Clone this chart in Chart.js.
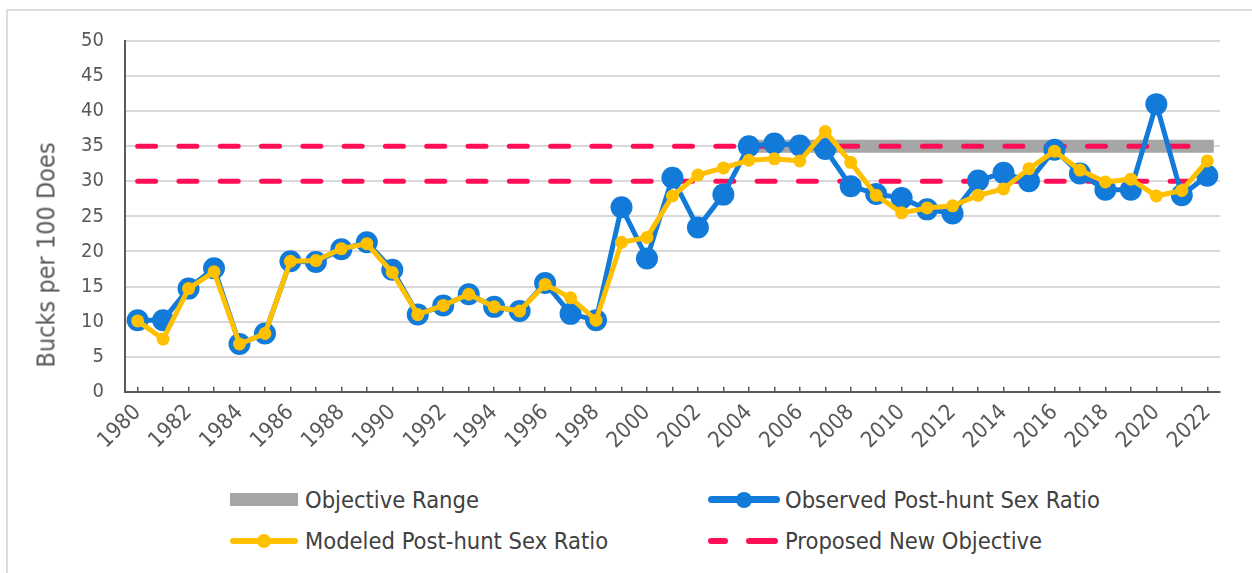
<!DOCTYPE html>
<html lang="en">
<head>
<meta charset="UTF-8">
<title>Post-hunt Sex Ratio</title>
<style>
body {
    margin: 0;
    background: #fff;
    font-family: 'DejaVu Sans Condensed', 'DejaVu Sans', sans-serif;
    overflow: hidden;
}
#frame {
    position: absolute;
    left: 6px;
    top: 9px;
    width: 1300px;
    height: 600px;
    border-left: 2px solid #dedede;
    border-top: 2px solid #dedede;
}
#wrap {
    position: absolute;
    left: 0;
    top: 0;
    width: 1252px;
    height: 467px;
}
#ytitle {
    position: absolute;
    left: 46px;
    top: 255px;
    transform: translate(-50%, -50%) rotate(-90deg);
    font-size: 25px;
    color: #595959;
    white-space: nowrap;
}
.item {
    position: absolute;
    height: 28px;
    font-size: 23.5px;
    color: #404040;
    line-height: 28px;
    white-space: nowrap;
}
.sym {
    position: absolute;
    top: 50%;
}
</style>
</head>
<body>
<div id="frame"></div>
<div id="wrap"><canvas id="chart" width="1252" height="467"></canvas></div>
<div id="ytitle">Bucks per 100 Does</div>

<!-- legend -->
<div class="item" style="left:230px; top:486px;">
    <span class="sym" style="left:0; width:68px; height:13px; margin-top:-7px; background:#a6a6a6;"></span>
    <span style="margin-left:75px;">Objective Range</span>
</div>
<div class="item" style="left:708px; top:486px;">
    <span class="sym" style="left:0; width:72px; height:7px; margin-top:-4px; background:#127bda; border-radius:4px;"></span>
    <span class="sym" style="left:28px; width:16px; height:16px; margin-top:-8px; background:#127bda; border-radius:50%;"></span>
    <span style="margin-left:77px;">Observed Post-hunt Sex Ratio</span>
</div>
<div class="item" style="left:230px; top:527px;">
    <span class="sym" style="left:0; width:68px; height:6px; margin-top:-3px; background:#ffc000; border-radius:3px;"></span>
    <span class="sym" style="left:27px; width:14px; height:14px; margin-top:-7px; background:#ffc000; border-radius:50%;"></span>
    <span style="margin-left:75px;">Modeled Post-hunt Sex Ratio</span>
</div>
<div class="item" style="left:708px; top:527px;">
    <span class="sym" style="left:0; width:20px; height:6px; margin-top:-3px; background:#ff0d55; border-radius:3px;"></span>
    <span class="sym" style="left:38px; width:32px; height:6px; margin-top:-3px; background:#ff0d55; border-radius:3px;"></span>
    <span style="margin-left:77px;">Proposed New Objective</span>
</div>

<script src="https://cdn.jsdelivr.net/npm/chart.js"></script>
<script>
// Years on the x axis
const years = ['1980','1981','1982','1983','1984','1985','1986','1987','1988','1989',
               '1990','1991','1992','1993','1994','1995','1996','1997','1998','1999',
               '2000','2001','2002','2003','2004','2005','2006','2007','2008','2009',
               '2010','2011','2012','2013','2014','2015','2016','2017','2018','2019',
               '2020','2021','2022'];

// Observed post-hunt bucks per 100 does
const observed = [10.2, 10.2, 14.7, 17.6, 6.8, 8.3, 18.6, 18.5, 20.3, 21.3,
                  17.4, 11.0, 12.3, 13.9, 12.1, 11.5, 15.5, 11.1, 10.2, 26.3,
                  19.0, 30.5, 23.4, 28.1, 35.0, 35.4, 35.1, 34.6, 29.3, 28.2,
                  27.6, 26.0, 25.4, 30.1, 31.2, 30.0, 34.5, 31.1, 28.8, 28.8,
                  41.0, 28.0, 30.8];

// Modeled post-hunt bucks per 100 does
const modeled = [10.1, 7.5, 14.7, 17.1, 6.8, 8.3, 18.6, 18.7, 20.4, 21.1,
                 17.0, 11.0, 12.3, 13.9, 12.1, 11.5, 15.3, 13.4, 10.2, 21.3,
                 22.0, 27.9, 30.9, 31.9, 33.0, 33.2, 32.9, 37.1, 32.7, 28.0,
                 25.5, 26.2, 26.5, 28.0, 28.9, 31.8, 34.3, 31.6, 29.9, 30.3,
                 27.9, 28.7, 32.9];

// Objective range band and proposed objective lines
const objectiveRange = 35;
const objectiveFrom = '2004';
const proposedHigh = 35;
const proposedLow = 30;

const yTicks = { min: 0, max: 50, step: 5 };

const grey = '#595959';
const fontFamily = "'DejaVu Sans Condensed', 'DejaVu Sans', sans-serif";

const ctx = document.getElementById('chart').getContext('2d');

new Chart(ctx, {
    type: 'line',
    data: {
        labels: years,
        datasets: [
            {
                label: 'Modeled Post-hunt Sex Ratio',
                data: modeled,
                borderColor: '#ffc000',
                backgroundColor: '#ffc000',
                borderWidth: 5,
                pointRadius: 6.5,
                pointBorderWidth: 0,
                tension: 0
            },
            {
                label: 'Observed Post-hunt Sex Ratio',
                data: observed,
                borderColor: '#127bda',
                backgroundColor: '#127bda',
                borderWidth: 5,
                pointRadius: 11,
                pointBorderWidth: 0,
                tension: 0
            },
            {
                label: 'Proposed New Objective',
                data: [{ x: years[0], y: proposedHigh }, { x: years[years.length - 1], y: proposedHigh }],
                borderColor: '#ff0d55',
                borderWidth: 5,
                borderDash: [18, 23.3],
                borderCapStyle: 'round',
                pointRadius: 0
            },
            {
                label: 'Proposed New Objective (low)',
                data: [{ x: years[0], y: proposedLow }, { x: years[years.length - 1], y: proposedLow }],
                borderColor: '#ff0d55',
                borderWidth: 5,
                borderDash: [18, 23.3],
                borderCapStyle: 'round',
                pointRadius: 0
            },
            {
                label: 'Objective Range',
                data: [{ x: objectiveFrom, y: objectiveRange }, { x: years[years.length - 1], y: objectiveRange }],
                borderColor: '#a6a6a6',
                borderWidth: 13,
                borderCapStyle: 'square',
                pointRadius: 0
            }
        ]
    },
    options: {
        responsive: false,
        animation: false,
        layout: {
            padding: { left: 60, right: 32, top: 41, bottom: 0 }
        },
        plugins: {
            legend: { display: false },
            tooltip: { enabled: false }
        },
        scales: {
            x: {
                offset: true,
                grid: {
                    offset: false,
                    drawOnChartArea: false,
                    drawTicks: true,
                    tickLength: -5,
                    color: grey,
                    lineWidth: 1.5
                },
                border: { color: grey, width: 2 },
                ticks: {
                    autoSkip: false,
                    minRotation: 45,
                    maxRotation: 45,
                    padding: 13,
                    color: grey,
                    font: { family: fontFamily, size: 22 },
                    callback: function(value, index) {
                        return index % 2 === 0 ? years[index] : '';
                    }
                }
            },
            y: {
                min: yTicks.min,
                max: yTicks.max,
                grid: {
                    color: '#d9d9d9',
                    lineWidth: 2,
                    drawTicks: false
                },
                border: { color: grey, width: 2 },
                ticks: {
                    stepSize: yTicks.step,
                    padding: 21,
                    color: grey,
                    font: { family: fontFamily, size: 20 }
                }
            }
        }
    }
});
</script>
</body>
</html>
